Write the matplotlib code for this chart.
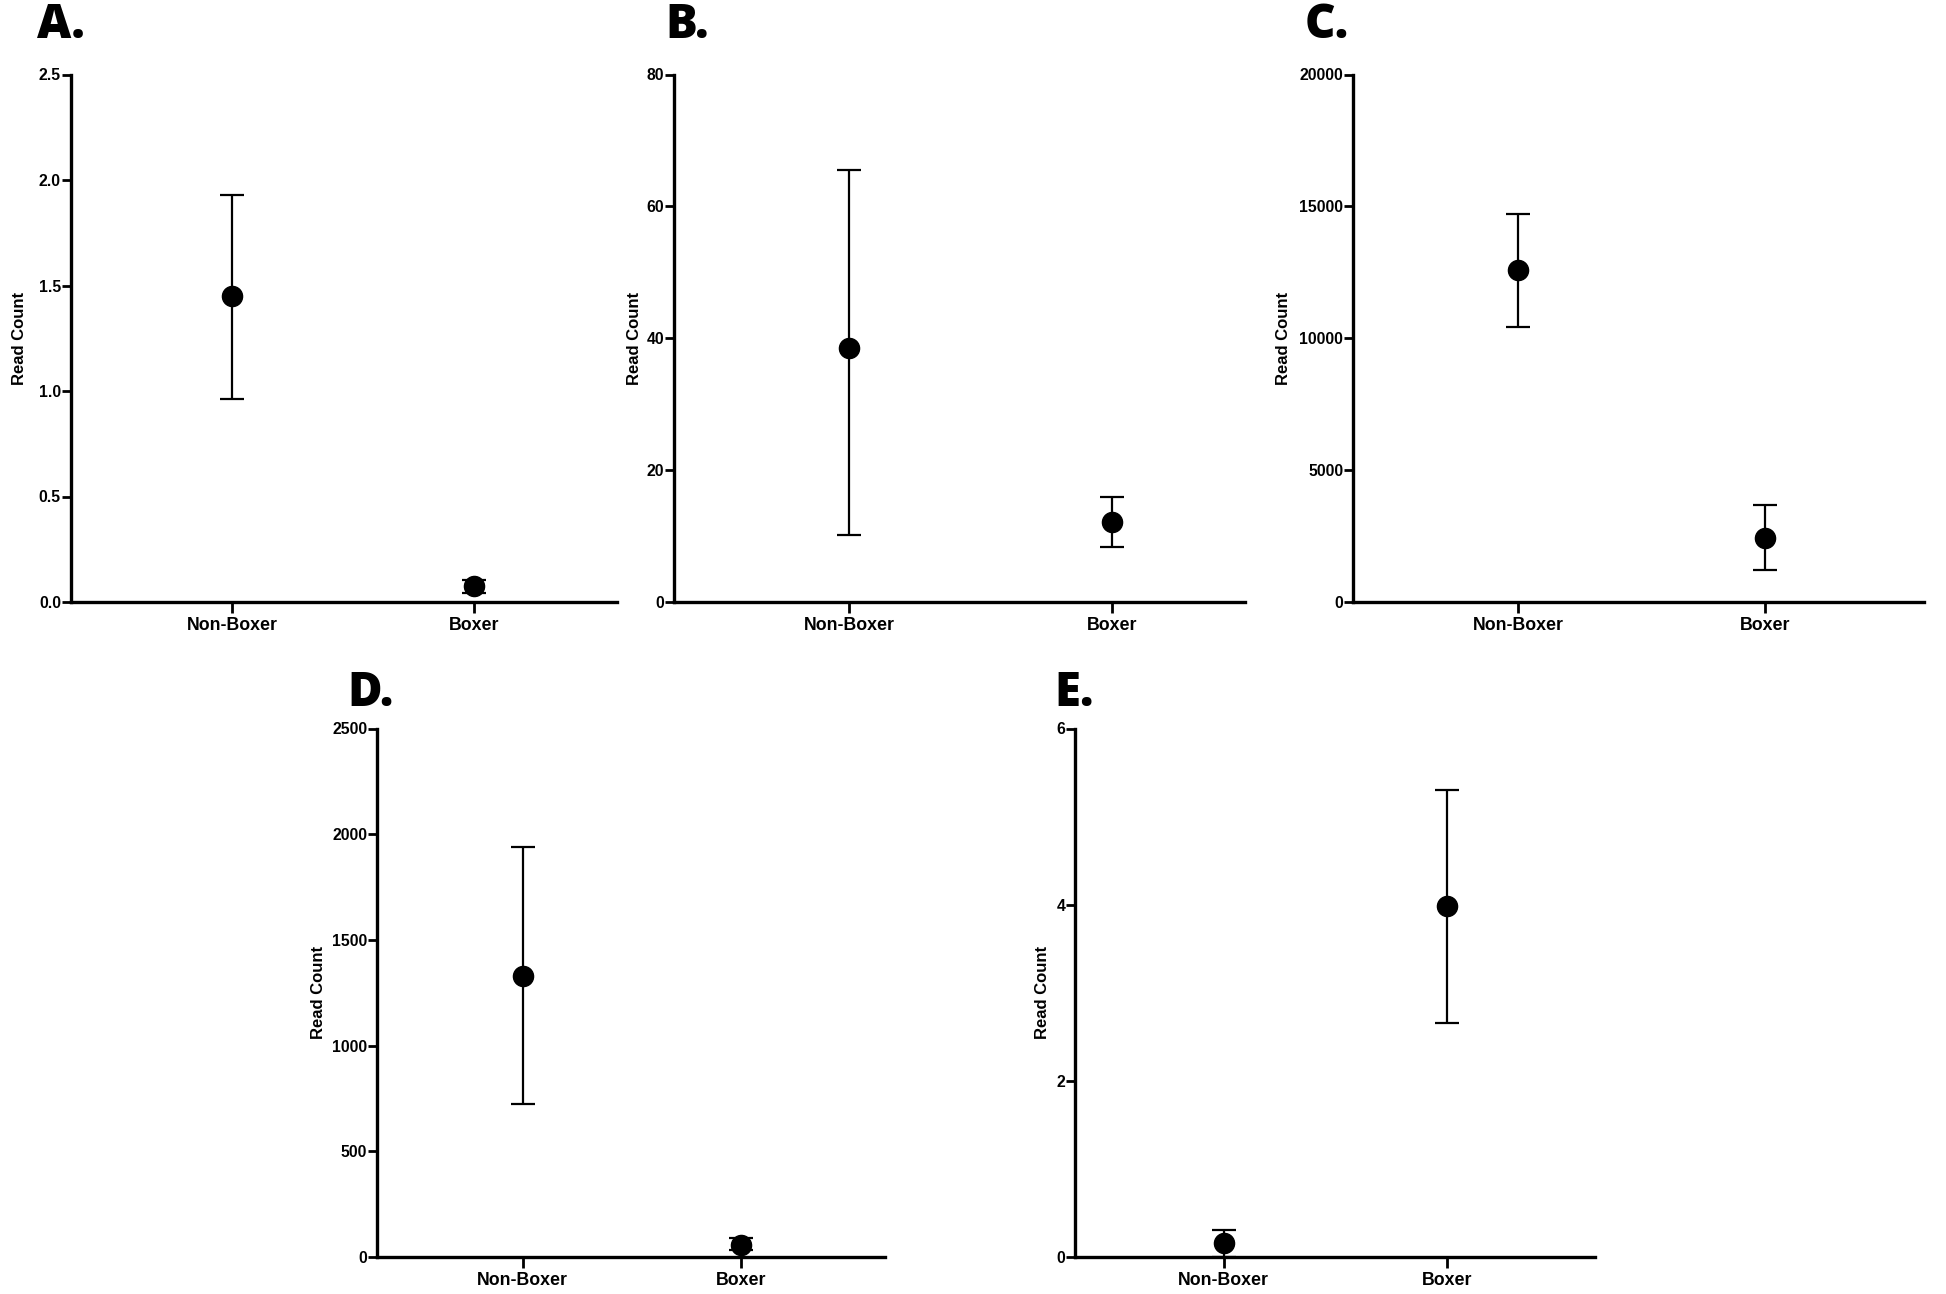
import matplotlib
matplotlib.use("Agg")
import matplotlib.pyplot as plt

groups = ["Non-Boxer", "Boxer"]

a_mean = [1.45, 0.075]
a_low = [0.96, 0.045]
a_high = [1.93, 0.105]
a_ticks = [0.0, 0.5, 1.0, 1.5, 2.0, 2.5]
a_ticklabels = ["0.0", "0.5", "1.0", "1.5", "2.0", "2.5"]

b_mean = [38.5, 12.1]
b_low = [10.1, 8.3]
b_high = [65.5, 15.9]
b_ticks = [0, 20, 40, 60, 80]
b_ticklabels = ["0", "20", "40", "60", "80"]

c_mean = [12580, 2440]
c_low = [10440, 1210]
c_high = [14720, 3680]
c_ticks = [0, 5000, 10000, 15000, 20000]
c_ticklabels = ["0", "5000", "10000", "15000", "20000"]

d_mean = [1330, 59]
d_low = [724, 31]
d_high = [1938, 88]
d_ticks = [0, 500, 1000, 1500, 2000, 2500]
d_ticklabels = ["0", "500", "1000", "1500", "2000", "2500"]

e_mean = [0.156, 3.99]
e_low = [0.0, 2.66]
e_high = [0.31, 5.30]
e_ticks = [0, 2, 4, 6]
e_ticklabels = ["0", "2", "4", "6"]

panel_letters = ["A.", "B.", "C.", "D.", "E."]
ylabel = "Read Count"

W, H = 1946, 1294
fig = plt.figure(figsize=(W / 100, H / 100), dpi=100)

# layout in pixels: (left, right, top, bottom, xlim_right, ylabel_offset, letter_x, letter_baseline)
layout = [
    (70.7, 617, 74.5, 602, 1.593, 44, 37, 38),
    (674, 1245, 74.5, 602, 1.504, 32, 665, 38),
    (1353, 1924, 74.5, 602, 1.641, 62, 1305, 38),
    (377, 885, 728.5, 1257, 1.659, 51, 347, 706),
    (1075, 1595, 728.5, 1257, 1.664, 25, 1054, 706),
]

panels = [
    (a_mean, a_low, a_high, a_ticks, a_ticklabels),
    (b_mean, b_low, b_high, b_ticks, b_ticklabels),
    (c_mean, c_low, c_high, c_ticks, c_ticklabels),
    (d_mean, d_low, d_high, d_ticks, d_ticklabels),
    (e_mean, e_low, e_high, e_ticks, e_ticklabels),
]

tickfont = dict(family="Liberation Sans", weight="bold")

for i, ((mean, low, high, ticks, tlabels), lay) in enumerate(zip(panels, layout)):
    l, r, t, b, xr, yoff, lx, lb = lay
    ax = fig.add_axes([l / W, 1 - b / H, (r - l) / W, (b - t) / H])
    xs = list(range(len(groups)))
    yerr = [[m - lo for m, lo in zip(mean, low)], [hi - m for m, hi in zip(mean, high)]]
    ax.errorbar(xs, mean, yerr=yerr, fmt="none", ecolor="black", elinewidth=1.6,
                capsize=8.3, capthick=1.6, zorder=3, clip_on=False)
    ax.plot(xs, mean, "o", color="black", markersize=14.5, zorder=4, clip_on=False)
    ax.set_xlim(-0.667, xr)
    ax.set_ylim(ticks[0], ticks[-1])
    ax.set_yticks(ticks)
    ax.set_yticklabels(tlabels, fontsize=11.3, **tickfont)
    ax.set_xticks(xs)
    ax.set_xticklabels(groups, fontsize=12.8, **tickfont)
    for s in ["top", "right"]:
        ax.spines[s].set_visible(False)
    for s in ["left", "bottom"]:
        ax.spines[s].set_linewidth(2.4)
    ax.tick_params(axis="y", length=6.5, width=2, pad=0.5)
    ax.tick_params(axis="x", length=8, width=2, pad=3)
    ax.set_ylabel(ylabel, fontsize=12, family="Liberation Sans", weight="bold")
    ax.yaxis.set_label_coords(-yoff / (r - l), 0.5)
    fig.text(lx / W, 1 - lb / H, panel_letters[i], fontsize=34, family="Open Sans",
             weight="heavy", ha="left", va="baseline")

fig.savefig("out.png", dpi=100, facecolor="white")
